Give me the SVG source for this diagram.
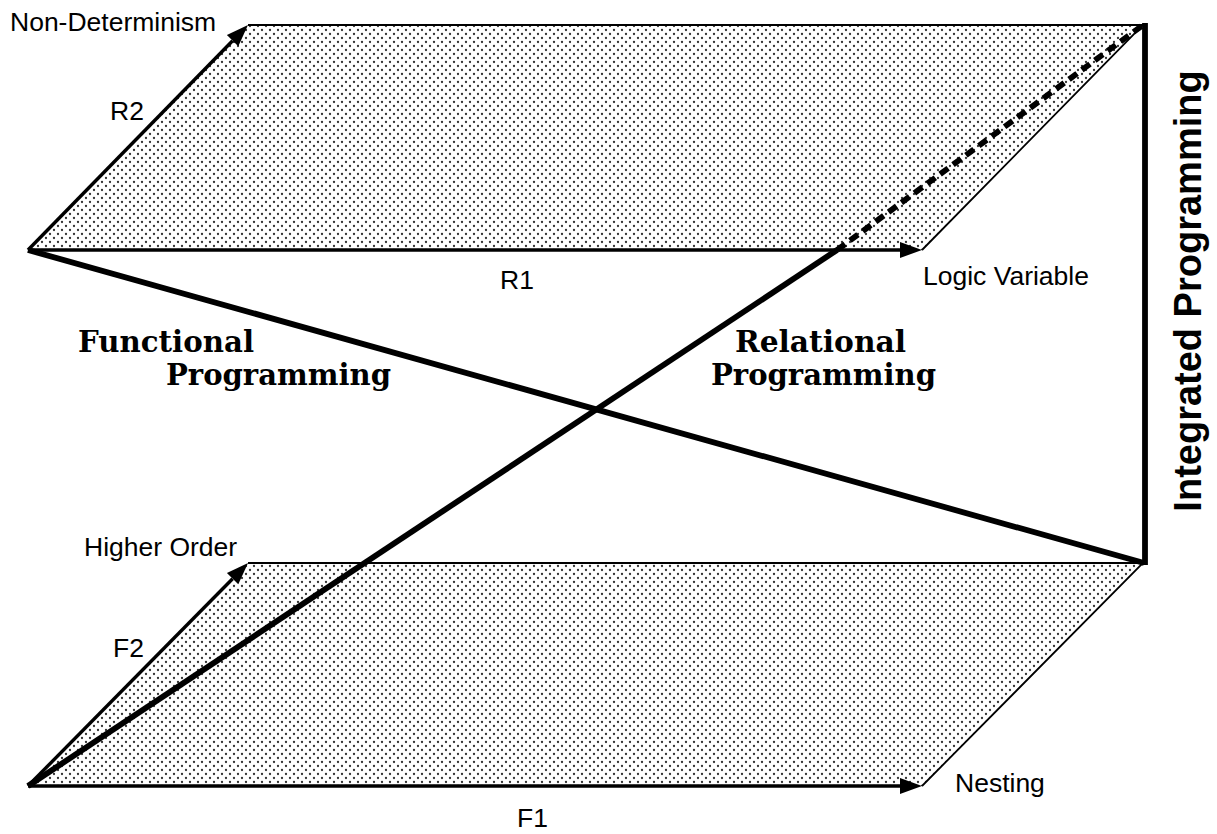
<svg xmlns="http://www.w3.org/2000/svg" width="1217" height="834" viewBox="0 0 1217 834">
<style>
.sans{font-family:"Liberation Sans",Arial,sans-serif;font-size:26.5px;fill:#000}
.serif{font-family:"DejaVu Serif","Liberation Serif",serif;font-weight:bold;font-size:30px;fill:#000}
.side{font-family:"Liberation Sans",Arial,sans-serif;font-weight:bold;font-size:38px;fill:#000}
.plane{fill:url(#dots);stroke:none}
.edge{fill:none;stroke:#000;stroke-width:1.8}
.arrow{fill:none;stroke:#000;stroke-width:3.4}
.thick{fill:none;stroke:#000;stroke-width:5.8}
.dash{fill:none;stroke:#000;stroke-width:5.8;stroke-dasharray:10 6}
</style>
<defs>
<pattern id="dots" width="8" height="8" patternUnits="userSpaceOnUse">
<rect width="8" height="8" fill="#fff"/>
<circle cx="2" cy="2" r="1.15" fill="#333"/>
<circle cx="6" cy="6" r="1.15" fill="#333"/>
</pattern>
<marker id="head" markerUnits="userSpaceOnUse" markerWidth="22" markerHeight="16" refX="0" refY="8" orient="auto" overflow="visible">
<path d="M0,0 L22,8 L0,16 Z" fill="#000"/>
</marker>
</defs>
<rect width="1217" height="834" fill="#fff"/>
<g id="relational-plane">
<path class="plane" d="M28,250 L248,25 L1143,25 L922,250 Z"/>
<path class="edge" d="M248,25 L1143,25 L922,250"/>
</g>
<g id="functional-plane">
<path class="plane" d="M28,786 L248,563 L1143,563 L922,786 Z"/>
<path class="edge" d="M248,563 L1143,563 L922,786"/>
</g>
<g id="connectors">
<line class="arrow" x1="28" y1="250" x2="232.6" y2="40.7" marker-end="url(#head)"/>
<line class="arrow" x1="28" y1="250" x2="900" y2="250" marker-end="url(#head)"/>
<line class="arrow" x1="28" y1="786" x2="232.6" y2="578.7" marker-end="url(#head)"/>
<line class="arrow" x1="28" y1="786" x2="900" y2="786" marker-end="url(#head)"/>
<line class="thick" x1="28" y1="250" x2="1144" y2="563"/>
<line class="thick" x1="28" y1="786" x2="837" y2="250"/>
<line class="dash" x1="837" y1="250" x2="1143" y2="25"/>
<line class="thick" x1="1145" y1="23" x2="1145" y2="565"/>
</g>
<g id="label-nondeterminism"><text class="sans" x="10" y="31">Non-Determinism</text></g>
<g id="label-r2"><text class="sans" x="110" y="120">R2</text></g>
<g id="label-r1"><text class="sans" x="500" y="289">R1</text></g>
<g id="label-logic"><text class="sans" x="923" y="285">Logic Variable</text></g>
<g id="label-higher"><text class="sans" x="84" y="556">Higher Order</text></g>
<g id="label-f2"><text class="sans" x="113" y="657">F2</text></g>
<g id="label-nesting"><text class="sans" x="955" y="792">Nesting</text></g>
<g id="label-f1"><text class="sans" x="517" y="827">F1</text></g>
<g id="label-functional">
<text class="serif" x="78" y="352" textLength="176" lengthAdjust="spacingAndGlyphs">Functional</text>
<text class="serif" x="166" y="385" textLength="225" lengthAdjust="spacingAndGlyphs">Programming</text>
</g>
<g id="label-relational">
<text class="serif" x="735" y="352" textLength="171" lengthAdjust="spacingAndGlyphs">Relational</text>
<text class="serif" x="711" y="385" textLength="225" lengthAdjust="spacingAndGlyphs">Programming</text>
</g>
<g id="label-integrated">
<text class="side" transform="translate(1201,291) rotate(-90)" text-anchor="middle">Integrated Programming</text>
</g>
</svg>
